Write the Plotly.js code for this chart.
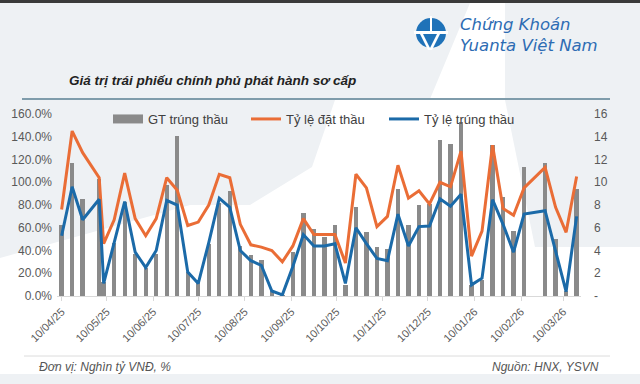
<!DOCTYPE html>
<html>
<head>
<meta charset="utf-8">
<script src="https://cdn.plot.ly/plotly-3.0.1.min.js"></script>
<style>html,body{margin:0;padding:0;background:#fff;}#chart{width:640px;height:384px;}</style>
</head>
<body>
<div id="chart"></div>
<script>
// ---- data ----
const dates = ['2025-04-10','2025-04-17','2025-04-24','2025-05-05','2025-05-08','2025-05-15','2025-05-22','2025-05-29',
  '2025-06-05','2025-06-12','2025-06-19','2025-06-26','2025-07-03','2025-07-10','2025-07-17','2025-07-24','2025-07-31',
  '2025-08-07','2025-08-14','2025-08-21','2025-08-28','2025-09-04','2025-09-11','2025-09-18','2025-09-25','2025-10-02',
  '2025-10-09','2025-10-16','2025-10-23','2025-10-30','2025-11-06','2025-11-13','2025-11-20','2025-11-27','2025-12-04',
  '2025-12-11','2025-12-18','2025-12-25','2026-01-01','2026-01-08','2026-01-15','2026-01-22','2026-01-29','2026-02-05',
  '2026-02-12','2026-02-26','2026-03-05','2026-03-12','2026-03-19'];
const gtTrungThau = [6.2,11.7,8.5,10.3,1.2,4.7,8.3,3.7,2.5,3.7,9.8,14.1,2.1,1.4,4.6,8.2,9.2,4.4,3.6,3.2,0.4,0.1,3.9,7.3,5.9,
  5.2,6.2,1.0,7.8,5.6,4.3,4.1,9.4,6.2,8.0,8.1,13.7,13.4,15.3,1.0,1.4,13.3,8.7,5.7,11.3,11.7,5.0,0.4,9.4];
const tyLeDatThau = [76,145,126,104,46,67,108,68,53,68,104,93,62,65,80,107,104,63,45,43,40,30,44,68,54,54,54,29,107,95,61,70,
  115,86,92.5,81,100,96,127.4,35,57,132.5,77,71,95,113,78,56,105];
const tyLeTrungThau = [53,96,67,85,11,46,83,38.5,25,40,84,80,21,11,47,86,78,40,31,27,4.4,1,26,54,44,44,46,11,60,46,33,31,72,
  44,61,61.5,85.5,79,89.5,9.8,15.7,84.7,63,38.5,72,75,39.4,3.9,70];
const pctTicks = [0,20,40,60,80,100,120,140,160];
const pctTickText = ['0.0%','20.0%','40.0%','60.0%','80.0%','100.0%','120.0%','140.0%','160.0%'];
const valTicks = [0,2,4,6,8,10,12,14,16];
const valTickText = ['-','2','4','6','8','10','12','14','16'];
const seriesNames = ['GT trúng thầu','Tỷ lệ đặt thầu','Tỷ lệ trúng thầu'];

// ---- layout helpers (pixel -> paper) ----
const W = 640, H = 384, ML = 57, MR = 59, MT = 114, MB = 88;
const PW = W - ML - MR, PH = H - MT - MB;
const X = px => (px - ML) / PW;
const Y = py => (H - MB - py) / PH;

const FONT = 'Liberation Sans, Arial, sans-serif';
const GREY = '#8a8a8a', ORANGE = '#ea6d36', BLUE = '#1b6aa8';

const traces = [
  {type:'scatter', mode:'lines', x:[null], y:[null], name:seriesNames[0], line:{color:GREY, width:9}, yaxis:'y', hoverinfo:'skip'},
  {type:'bar', x:dates, y:gtTrungThau, name:seriesNames[0], marker:{color:GREY}, width:2.9*86400000, yaxis:'y', showlegend:false},
  {type:'scatter', mode:'lines', x:dates, y:tyLeDatThau, name:seriesNames[1], line:{color:ORANGE, width:3}, yaxis:'y2'},
  {type:'scatter', mode:'lines', x:dates, y:tyLeTrungThau, name:seriesNames[2], line:{color:BLUE, width:3}, yaxis:'y2'}
];

const bgShapes = [
  {type:'path', path:'M0,3 L470,3 L430,99 L335,100 L312,167 L250,205 L190,205 L0,258 Z'},
  {type:'path', path:'M505,3 L640,3 L640,247 L535,247 L505,100 Z'},
  {type:'path', path:'M0,374 L640,374 L640,384 L0,384 Z'}
].map(s => {
  const p = s.path.replace(/(\d+(?:\.\d+)?),(\d+(?:\.\d+)?)/g, (m,a,b) => X(+a).toFixed(5)+','+Y(+b).toFixed(5));
  return {type:'path', path:p, xref:'paper', yref:'paper', fillcolor:'#eef1f4', line:{width:0}, layer:'below'};
});

const shapes = bgShapes.concat([
  {type:'rect', xref:'paper', yref:'paper', x0:X(0), x1:X(640), y0:Y(0), y1:Y(3), fillcolor:'#3a3a3a', line:{width:0}, layer:'below'},
  {type:'line', xref:'paper', yref:'paper', x0:X(22), x1:X(610), y0:Y(99), y1:Y(99), line:{color:'#7f9cab', width:2}},
  {type:'line', xref:'paper', yref:'paper', x0:X(24), x1:X(610), y0:Y(356), y1:Y(356), line:{color:'#dcdcdc', width:1}},
  // logo icon
  {type:'circle', xref:'paper', yref:'paper', x0:X(416), x1:X(446), y0:Y(48), y1:Y(18), fillcolor:'#1f72b8', line:{width:0}},
  {type:'path', xref:'paper', yref:'paper', path:'M'+X(430)+','+Y(16)+' L'+X(432)+','+Y(16)+' L'+X(432)+','+Y(31)+' L'+X(430)+','+Y(31)+' Z', fillcolor:'#ffffff', line:{width:0}},
  {type:'path', xref:'paper', yref:'paper', path:'M'+X(414)+','+Y(31)+' L'+X(448)+','+Y(31)+' L'+X(448)+','+Y(34)+' L'+X(414)+','+Y(34)+' Z', fillcolor:'#ffffff', line:{width:0}},
  {type:'path', xref:'paper', yref:'paper', path:'M'+X(420)+','+Y(34)+' L'+X(423)+','+Y(34)+' L'+X(431)+','+Y(50)+' L'+X(428)+','+Y(50)+' Z', fillcolor:'#ffffff', line:{width:0}},
  {type:'path', xref:'paper', yref:'paper', path:'M'+X(440)+','+Y(34)+' L'+X(437)+','+Y(34)+' L'+X(429)+','+Y(50)+' L'+X(432)+','+Y(50)+' Z', fillcolor:'#ffffff', line:{width:0}}
]);

const annotations = [
  {text:'Chứng Khoán<br>Yuanta Việt Nam', x:X(458), y:Y(35), xanchor:'left', yanchor:'middle', align:'left',
    font:{family:'DejaVu Sans', size:16.5, color:'#2d6cb3', style:'italic'}},
  {text:'<b><i>Giá trị trái phiếu chính phủ phát hành sơ cấp</i></b>', x:X(67), y:Y(80), xanchor:'left', yanchor:'middle', font:{family:FONT, size:13.5, color:'#222222'}},
  {text:'<i>Đơn vị: Nghìn tỷ VNĐ, %</i>', x:X(37), y:Y(367), xanchor:'left', yanchor:'middle', font:{family:FONT, size:12, color:'#555555'}},
  {text:'<i>Nguồn: HNX, YSVN</i>', x:X(601), y:Y(367), xanchor:'right', yanchor:'middle', font:{family:FONT, size:12, color:'#555555'}}
].map(a => Object.assign({xref:'paper', yref:'paper', showarrow:false}, a));

const layout = {
  width:W, height:H,
  margin:{l:ML, r:MR, t:MT, b:MB, pad:0},
  paper_bgcolor:'#ffffff', plot_bgcolor:'rgba(0,0,0,0)',
  font:{family:FONT, size:12, color:'#595959'},
  bargap:0,
  xaxis:{type:'date', range:['2025-04-06 22:00','2026-03-21 22:00'], tick0:'2025-04-10', dtick:'M1', tickformat:'%d/%m/%y',
    tickangle:-45, tickfont:{size:11, color:'#595959'}, showgrid:false, zeroline:false, showline:true, linecolor:'#d9d9d9',
    ticks:'outside', ticklen:4, tickcolor:'#d9d9d9', fixedrange:true},
  yaxis:{side:'right', range:[0,16], tickvals:valTicks, ticktext:valTickText, showgrid:false, zeroline:false, showline:false,
    ticks:'', tickfont:{size:12, color:'#595959'}, ticklabelstandoff:12},
  yaxis2:{overlaying:'y', side:'left', range:[0,160], tickvals:pctTicks, ticktext:pctTickText, showgrid:false, zeroline:false,
    showline:false, ticks:'', tickfont:{size:12, color:'#595959'}, ticklabelstandoff:4},
  showlegend:true,
  legend:{orientation:'h', x:X(108), y:Y(104), xanchor:'left', yanchor:'top', bgcolor:'rgba(0,0,0,0)',
    font:{size:13, color:'#404040'}, entrywidth:93, entrywidthmode:'pixels', traceorder:'normal'},
  shapes:shapes,
  annotations:annotations
};

Plotly.newPlot('chart', traces, layout, {staticPlot:true, displayModeBar:false});
</script>
</body>
</html>
